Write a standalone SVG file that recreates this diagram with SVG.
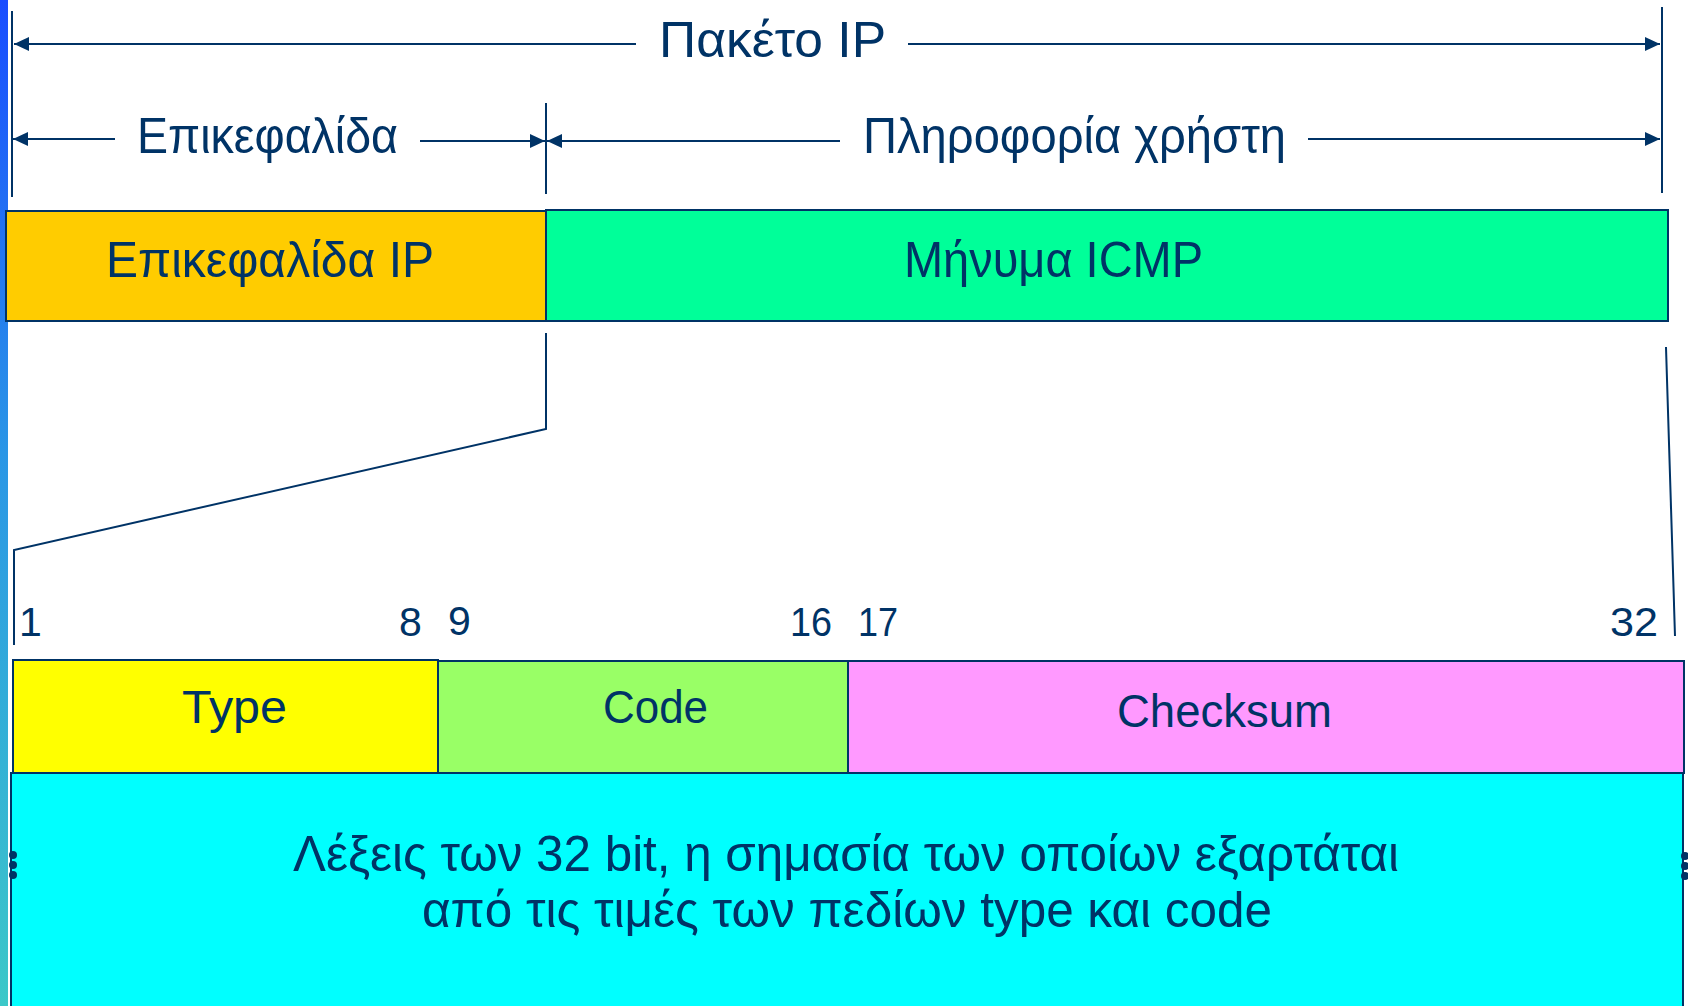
<svg xmlns="http://www.w3.org/2000/svg" width="1688" height="1006" viewBox="0 0 1688 1006">
  <defs>
    <linearGradient id="bar" x1="0" y1="0" x2="0" y2="1">
      <stop offset="0" stop-color="#1a4dff"/>
      <stop offset="0.45" stop-color="#2a96e6"/>
      <stop offset="1" stop-color="#3cc8c8"/>
    </linearGradient>
    <marker id="arr" markerUnits="userSpaceOnUse" markerWidth="16" markerHeight="14" refX="15" refY="7" orient="auto-start-reverse">
      <path d="M0,0 L15,7 L0,14 z" fill="#003366"/>
    </marker>
    <style>
      .t { font-family: "Liberation Sans", "DejaVu Sans", sans-serif; fill: #003366; }
      .big { font-size: 50px; }
      .mid { font-size: 47px; }
      .num { font-size: 41px; }
      .box { stroke: #003366; stroke-width: 2; }
      .ln { stroke: #003366; stroke-width: 2; fill: none; }
    </style>
  </defs>

  <rect x="0" y="0" width="1688" height="1006" fill="#ffffff"/>
  <rect x="0" y="0" width="8" height="1006" fill="url(#bar)"/>

  <g id="connectors">
    <line class="ln" x1="12" y1="11" x2="12" y2="197"/>
    <line class="ln" x1="1662" y1="7" x2="1662" y2="193"/>
    <line class="ln" x1="636" y1="44" x2="14" y2="44" marker-end="url(#arr)"/>
    <line class="ln" x1="908" y1="44" x2="1660" y2="44" marker-end="url(#arr)"/>
    <line class="ln" x1="115" y1="139" x2="13" y2="139" marker-end="url(#arr)"/>
    <line class="ln" x1="420" y1="141" x2="545" y2="141" marker-end="url(#arr)"/>
    <line class="ln" x1="546" y1="103" x2="546" y2="194"/>
    <line class="ln" x1="840" y1="141" x2="547" y2="141" marker-end="url(#arr)"/>
    <line class="ln" x1="1308" y1="139" x2="1660" y2="139" marker-end="url(#arr)"/>
    <polyline class="ln" points="546,333 546,429 14,550 14,645"/>
    <line class="ln" x1="1666" y1="347" x2="1675" y2="636"/>
  </g>

  <g id="dim-labels">
    <text class="t big" x="659" y="57" textLength="227" lengthAdjust="spacingAndGlyphs">Πακέτο IP</text>
    <text class="t big" x="137" y="153" textLength="261" lengthAdjust="spacingAndGlyphs">Επικεφαλίδα</text>
    <text class="t big" x="863" y="153" textLength="423" lengthAdjust="spacingAndGlyphs">Πληροφορία χρήστη</text>
  </g>

  <g id="ip-header">
    <rect class="box" x="6" y="211" width="540" height="110" fill="#ffcc00"/>
    <text class="t big" x="106" y="277" textLength="328" lengthAdjust="spacingAndGlyphs">Επικεφαλίδα IP</text>
  </g>
  <g id="icmp-message">
    <rect class="box" x="546" y="210" width="1122" height="111" fill="#00ff99"/>
    <text class="t big" x="904" y="277" textLength="299" lengthAdjust="spacingAndGlyphs">Μήνυμα ICMP</text>
  </g>

  <g id="bit-numbers">
    <text class="t num" x="19" y="636">1</text>
    <text class="t num" x="399" y="636">8</text>
    <text class="t num" x="448" y="635">9</text>
    <text class="t num" x="790" y="636" textLength="42" lengthAdjust="spacingAndGlyphs">16</text>
    <text class="t num" x="858" y="636" textLength="40" lengthAdjust="spacingAndGlyphs">17</text>
    <text class="t num" x="1610" y="636" textLength="48" lengthAdjust="spacingAndGlyphs">32</text>
  </g>

  <g id="type">
    <rect class="box" x="13" y="660" width="425" height="113" fill="#ffff00"/>
    <text class="t mid" x="182" y="723" textLength="105" lengthAdjust="spacingAndGlyphs">Type</text>
  </g>
  <g id="code">
    <rect class="box" x="438" y="661" width="410" height="112" fill="#99ff66"/>
    <text class="t mid" x="603" y="723" textLength="105" lengthAdjust="spacingAndGlyphs">Code</text>
  </g>
  <g id="checksum">
    <rect class="box" x="848" y="661" width="836" height="112" fill="#ff99ff"/>
    <text class="t mid" x="1117" y="727" textLength="215" lengthAdjust="spacingAndGlyphs">Checksum</text>
  </g>

  <g id="words">
    <rect class="box" x="11" y="773" width="1672" height="240" fill="#00ffff"/>
    <text class="t big" x="293" y="871" textLength="1106" lengthAdjust="spacingAndGlyphs">Λέξεις των 32 bit, η σημασία των οποίων εξαρτάται</text>
    <text class="t big" x="422" y="927" textLength="850" lengthAdjust="spacingAndGlyphs">από τις τιμές των πεδίων type και code</text>
    <g fill="#003366">
      <circle cx="13" cy="855" r="4"/>
      <circle cx="13" cy="865" r="4"/>
      <circle cx="13" cy="875" r="4"/>
      <circle cx="1685" cy="856" r="4"/>
      <circle cx="1685" cy="866" r="4"/>
      <circle cx="1685" cy="876" r="4"/>
    </g>
  </g>
</svg>
